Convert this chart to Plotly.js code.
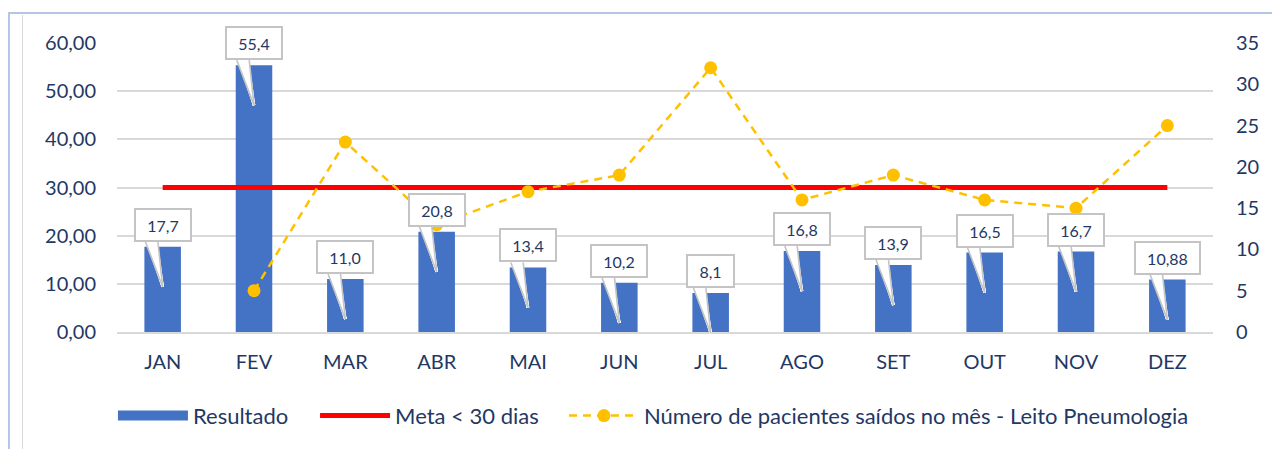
<!DOCTYPE html>
<html>
<head>
<meta charset="utf-8">
<script src="https://cdn.plot.ly/plotly-3.0.1.min.js"></script>
<style>
  html, body { margin: 0; padding: 0; background: #fff; }
  #wrap { position: relative; width: 1272px; height: 449px; overflow: hidden; }
  #chart { position: absolute; left: 0; top: 0; width: 1272px; height: 449px; }
  .fr { position: absolute; pointer-events: none; }
</style>
</head>
<body>
<div id="wrap">
  <div id="chart"></div>
  <div class="fr" style="left:8px;top:12px;width:1264px;height:2px;background:#b4c6e7;"></div>
  <div class="fr" style="left:8px;top:12px;width:2px;height:437px;background:#b4c6e7;"></div>
  <div class="fr" style="left:22px;top:15px;width:1px;height:434px;background:#d9d9d9;"></div>
</div>
<script>
const months = ['JAN','FEV','MAR','ABR','MAI','JUN','JUL','AGO','SET','OUT','NOV','DEZ'];
const resultado = [17.7, 55.4, 11.0, 20.8, 13.4, 10.2, 8.1, 16.8, 13.9, 16.5, 16.7, 10.88];
const resultadoLabels = ['17,7','55,4','11,0','20,8','13,4','10,2','8,1','16,8','13,9','16,5','16,7','10,88'];
const meta = [30, 30, 30, 30, 30, 30, 30, 30, 30, 30, 30, 30];
const pacientes = [null, 5, 23, 13, 17, 19, 32, 16, 19, 16, 15, 25];

const FONT = 'Lato, "Open Sans", sans-serif';
const TXT = '#1F3864';
const BLUE = '#4472C4';

const traces = [
  {
    type: 'bar', name: 'Resultado', x: months, y: resultado,
    marker: { color: BLUE }, width: 0.4, yaxis: 'y', hoverinfo: 'skip', showlegend: false
  },
  // legend entry for the bars (wide swatch), draws no mark
  {
    type: 'scatter', mode: 'lines', name: 'Resultado', x: [months[0]], y: [null],
    line: { color: BLUE, width: 15 }, yaxis: 'y', hoverinfo: 'skip', legend: 'legend'
  },
  {
    type: 'scatter', mode: 'lines', name: 'Meta < 30 dias', x: months, y: meta,
    line: { color: '#FF0000', width: 5 }, yaxis: 'y', hoverinfo: 'skip', legend: 'legend2'
  },
  {
    type: 'scatter', mode: 'lines+markers', name: 'Número de pacientes saídos no mês - Leito Pneumologia',
    x: months, y: pacientes, yaxis: 'y2', connectgaps: false,
    line: { color: '#FFC000', width: 2.5, dash: '8px,6px' },
    marker: { color: '#FFC000', size: 13 }, hoverinfo: 'skip', legend: 'legend3'
  }
];

const annotations = [];
// callout tails: white wedge fill, then gray outline edges
const tailFill = [-16.5, -15, -13.5, -12, -10.5, -9, -7.5, -6.5];
const tailEdge = [-18, -5];
months.forEach((m, i) => {
  tailFill.forEach(off => annotations.push({
    x: m, y: resultado[i], xref: 'x', yref: 'y', yshift: -40,
    text: ' ', font: { size: 1 }, showarrow: true, arrowhead: 0,
    arrowcolor: '#ffffff', arrowwidth: 2.5, ax: off, ay: -48, standoff: 0, startstandoff: 0
  }));
  tailEdge.forEach(off => annotations.push({
    x: m, y: resultado[i], xref: 'x', yref: 'y', yshift: -40,
    text: ' ', font: { size: 1 }, showarrow: true, arrowhead: 0,
    arrowcolor: '#c4c4c4', arrowwidth: 1.6, ax: off, ay: -47, standoff: 0, startstandoff: 0
  }));
});
// callout boxes
months.forEach((m, i) => {
  annotations.push({
    x: m, y: resultado[i], xref: 'x', yref: 'y', yshift: 22,
    text: resultadoLabels[i], showarrow: false, xanchor: 'center', yanchor: 'middle',
    font: { family: FONT, size: 16, color: TXT },
    bgcolor: '#ffffff', bordercolor: '#c4c4c4', borderwidth: 2, borderpad: 4,
    width: resultadoLabels[i].length * 9 + 10, height: 22
  });
});

const legendBase = {
  orientation: 'h', yanchor: 'middle', y: -0.29, xanchor: 'left',
  font: { family: FONT, size: 22, color: TXT }, itemwidth: 70,
  bgcolor: 'rgba(0,0,0,0)', borderwidth: 0
};

const layout = {
  width: 1272, height: 449,
  margin: { l: 117, r: 59, t: 43, b: 117 },
  paper_bgcolor: 'rgba(0,0,0,0)', plot_bgcolor: '#ffffff',
  separators: ',.',
  font: { family: FONT, size: 20, color: TXT },
  showlegend: true,
  xaxis: {
    type: 'category', range: [-0.5, 11.5], showgrid: false, zeroline: false,
    showline: true, linecolor: '#d9d9d9', linewidth: 2, ticks: '',
    tickfont: { family: FONT, size: 20, color: TXT }, ticklabelstandoff: 11
  },
  yaxis: {
    range: [0, 60], dtick: 10, tickformat: '.2f', showgrid: true,
    gridcolor: '#d9d9d9', gridwidth: 2, zeroline: false, showline: false, ticks: '',
    tickfont: { family: FONT, size: 20, color: TXT }, ticklabelstandoff: 20
  },
  yaxis2: {
    overlaying: 'y', side: 'right', range: [0, 35], dtick: 5, showgrid: false,
    zeroline: false, showline: false, ticks: '',
    tickfont: { family: FONT, size: 20, color: TXT }, ticklabelstandoff: 22
  },
  legend: Object.assign({}, legendBase, { x: -0.0037 }),
  legend2: Object.assign({}, legendBase, { x: 0.1807 }),
  legend3: Object.assign({}, legendBase, { x: 0.4078 }),
  annotations: annotations
};

Plotly.newPlot('chart', traces, layout, { staticPlot: true, displayModeBar: false });
</script>
</body>
</html>
